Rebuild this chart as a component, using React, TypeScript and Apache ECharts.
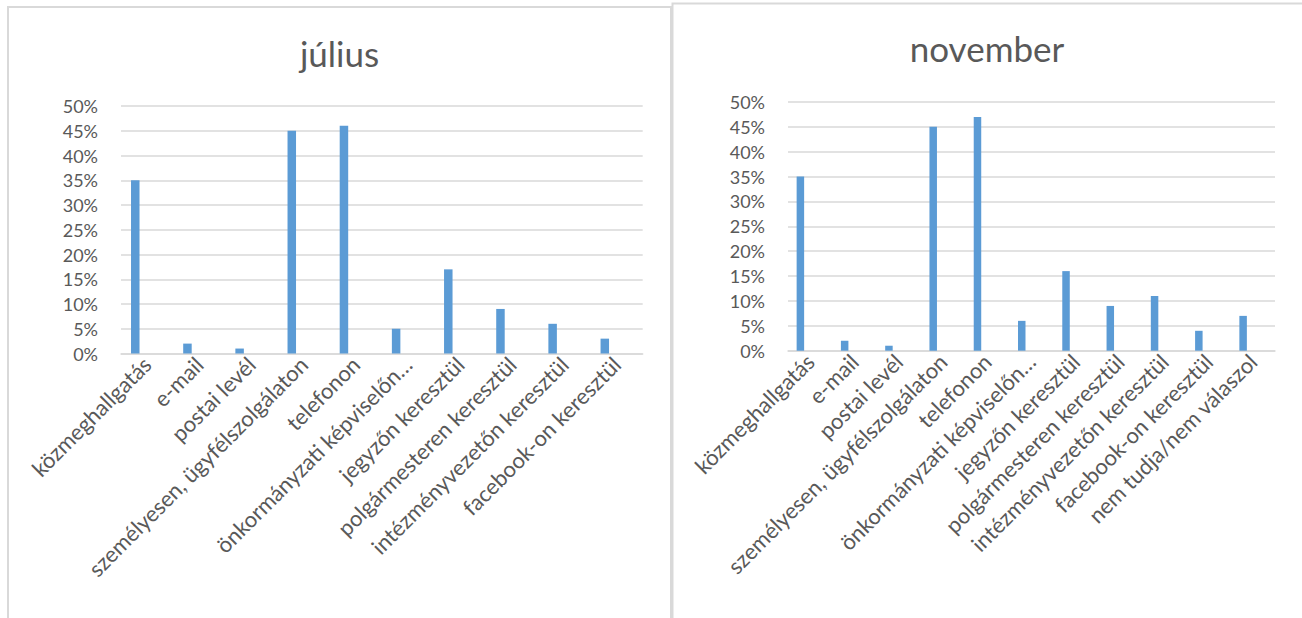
import React, { useEffect, useRef } from "react";
import * as echarts from "echarts";

const categoriesJul = [
  "közmeghallgatás",
  "e-mail",
  "postai levél",
  "személyesen, ügyfélszolgálaton",
  "telefonon",
  "önkormányzati képviselőn…",
  "jegyzőn keresztül",
  "polgármesteren keresztül",
  "intézményvezetőn keresztül",
  "facebook-on keresztül",
];
const valuesJul = [35, 2, 1, 45, 46, 5, 17, 9, 6, 3];

const categoriesNov = [
  "közmeghallgatás",
  "e-mail",
  "postai levél",
  "személyesen, ügyfélszolgálaton",
  "telefonon",
  "önkormányzati képviselőn…",
  "jegyzőn keresztül",
  "polgármesteren keresztül",
  "intézményvezetőn keresztül",
  "facebook-on keresztül",
  "nem tudja/nem válaszol",
];
const valuesNov = [35, 2, 1, 45, 47, 6, 16, 9, 11, 4, 7];

const titles = ["július", "november"];

const FONT = "Lato, 'Open Sans', sans-serif";
const TEXT = "#595959";
const GRID = "#d9d9d9";
const BAR = "#5b9bd5";

export default function App() {
  const ref = useRef<HTMLDivElement>(null);
  useEffect(() => {
    if (!ref.current) return;
    const chart = echarts.init(ref.current, null, { renderer: "svg" });
    const yAxisCommon = {
      type: "value",
      min: 0,
      max: 50,
      interval: 5,
      axisLine: { show: false },
      axisTick: { show: false },
      axisLabel: {
        formatter: "{value}%",
        color: TEXT,
        fontFamily: FONT,
        fontSize: 18,
        margin: 23,
      },
      splitLine: { lineStyle: { color: GRID, width: 1.5 } },
    };
    const xAxisCommon = {
      type: "category",
      axisLine: { lineStyle: { color: GRID, width: 1.5 } },
      axisTick: { show: false },
      axisLabel: {
        rotate: 45,
        interval: 0,
        color: TEXT,
        fontFamily: FONT,
        fontSize: 22,
        margin: 7,
      },
    };
    const option = {
      animation: false,
      backgroundColor: "#ffffff",
      grid: [
        { left: 121, top: 106, width: 521.7, height: 247.5 },
        { left: 788, top: 102, width: 487, height: 248.7 },
      ],
      xAxis: [
        { ...xAxisCommon, gridIndex: 0, data: categoriesJul },
        { ...xAxisCommon, gridIndex: 1, data: categoriesNov },
      ],
      yAxis: [
        { ...yAxisCommon, gridIndex: 0 },
        { ...yAxisCommon, gridIndex: 1 },
      ],
      series: [
        {
          type: "bar",
          name: titles[0],
          xAxisIndex: 0,
          yAxisIndex: 0,
          data: valuesJul,
          barWidth: 8.5,
          barGap: "178%",
          itemStyle: { color: BAR },
        },
        {
          type: "bar",
          name: "spacer0",
          xAxisIndex: 0,
          yAxisIndex: 0,
          data: valuesJul.map(() => null),
          barWidth: 8.5,
          itemStyle: { color: BAR },
        },
        {
          type: "bar",
          name: titles[1],
          xAxisIndex: 1,
          yAxisIndex: 1,
          data: valuesNov,
          barWidth: 7.5,
          barGap: "160%",
          itemStyle: { color: BAR },
        },
        {
          type: "bar",
          name: "spacer1",
          xAxisIndex: 1,
          yAxisIndex: 1,
          data: valuesNov.map(() => null),
          barWidth: 7.5,
          itemStyle: { color: BAR },
        },
      ],
      graphic: [
        {
          type: "polyline",
          shape: { points: [[8, 618], [8, 7], [671, 7], [671, 618]] },
          style: { stroke: GRID, lineWidth: 2, fill: "none" },
          silent: true,
        },
        {
          type: "polyline",
          shape: { points: [[672.5, 618], [672.5, 3.5], [1302, 3.5]] },
          style: { stroke: GRID, lineWidth: 2, fill: "none" },
          silent: true,
        },
        {
          type: "text",
          x: 339.5,
          y: 53,
          style: {
            text: titles[0],
            fill: TEXT,
            font: `35px ${FONT}`,
            textAlign: "center",
            textVerticalAlign: "middle",
          },
        },
        {
          type: "text",
          x: 987,
          y: 48,
          style: {
            text: titles[1],
            fill: TEXT,
            font: `35px ${FONT}`,
            textAlign: "center",
            textVerticalAlign: "middle",
          },
        },
      ],
    };
    chart.setOption(option as any);
    return () => chart.dispose();
  }, []);
  return (
    <div
      ref={ref}
      style={{ position: "absolute", left: 0, top: 0, width: 1302, height: 618 }}
    />
  );
}
